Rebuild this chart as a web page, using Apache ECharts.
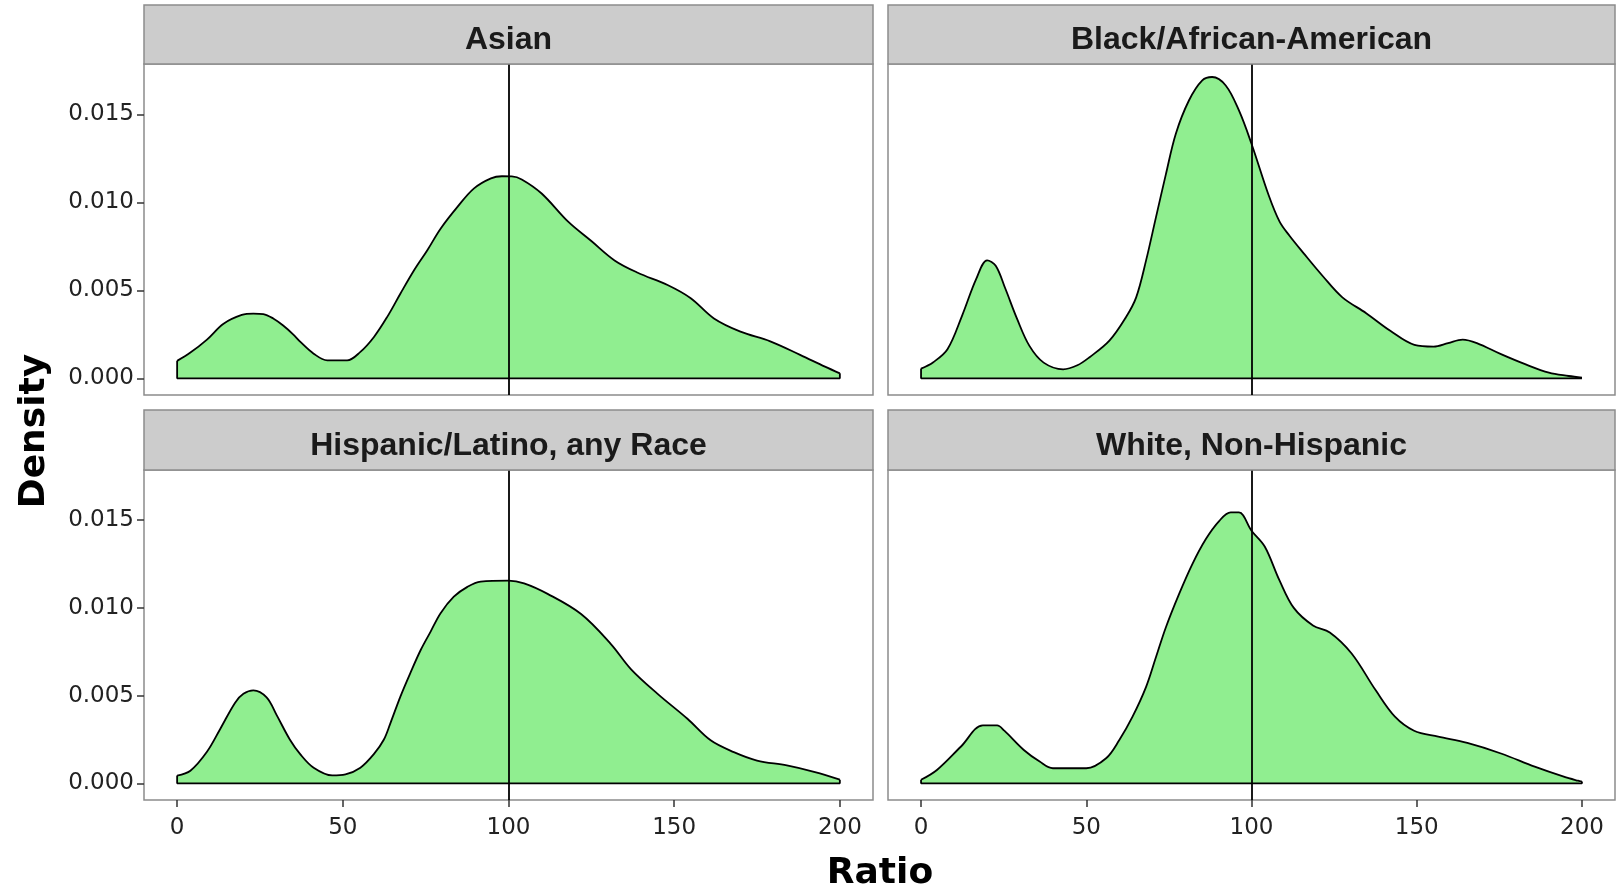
<!DOCTYPE html>
<html><head><meta charset="utf-8">
<script src="https://cdn.jsdelivr.net/npm/echarts@6/dist/echarts.min.js"></script>
<style>html,body{margin:0;padding:0;background:#fff}#c{width:1617px;height:887px}</style>
</head><body><div id="c"></div>
<script>
const panelTitles = ['Asian', 'Black/African-American', 'Hispanic/Latino, any Race', 'White, Non-Hispanic'];
const xTicks = [0, 50, 100, 150, 200];
const yTicks = [0, 0.005, 0.010, 0.015];
const yTickLabels = ['0.000', '0.005', '0.010', '0.015'];
const refLine = 100;
const xTitle = 'Ratio';
const yTitle = 'Density';

const asian = [[0,0.00099],[4,0.00146],[9,0.0022],[14,0.0031],[19.5,0.0036],[23,0.00368],[26,0.00365],[29,0.0034],[32,0.0030],[35,0.0025],[37.2,0.00207],[41.2,0.0014],[45.3,0.00102],[51.3,0.00102],[55.3,0.0015],[59.4,0.00235],[63.4,0.00349],[67.4,0.00482],[71.5,0.00614],[75.5,0.00728],[79.5,0.0085],[84.6,0.00974],[89.6,0.01079],[94.7,0.01136],[98,0.01148],[101,0.01147],[104,0.0113],[110,0.0105],[118,0.0089],[125,0.0078],[132,0.0067],[139,0.0060],[148,0.0053],[155,0.00455],[162,0.0034],[170,0.00265],[179,0.0021],[188,0.00133],[195.5,0.00066],[200,0.00028]];
const black = [[0,0.00055],[3.6,0.0009],[8,0.00165],[12.4,0.00355],[16.7,0.00565],[20,0.0067],[22.6,0.0064],[25.5,0.0051],[29.1,0.00336],[32.8,0.00184],[37.1,0.00089],[43,0.00051],[47.3,0.00074],[51,0.0012],[57,0.00214],[62,0.00347],[65.1,0.0046],[68.1,0.0067],[71.1,0.00916],[74.1,0.0116],[77.1,0.0139],[81.1,0.0158],[85.1,0.01693],[88.1,0.01712],[92.2,0.01664],[96.2,0.01522],[100,0.01333],[105.2,0.0104],[108.5,0.0089],[111.5,0.0081],[115.8,0.0071],[121.6,0.0058],[127.5,0.0046],[134.7,0.0037],[142,0.0027],[149.3,0.0019],[155.1,0.0018],[159.5,0.0020],[163.9,0.0022],[168.2,0.0020],[175.5,0.00137],[182.8,0.0008],[190,0.00032],[196,0.00013],[200,0.00003]];
const hispanic = [[0,0.00044],[4,0.00072],[9,0.0018],[13,0.0031],[17.5,0.0046],[20,0.0051],[23,0.0053],[27,0.0049],[30,0.0039],[34,0.0025],[37.2,0.00165],[41.2,0.00089],[46.8,0.00045],[50.8,0.00051],[55.3,0.00089],[59.3,0.00165],[62.4,0.0025],[64.4,0.00345],[67.4,0.00496],[70.4,0.0063],[73.5,0.0076],[76.5,0.00865],[79.5,0.0097],[83.5,0.01064],[87.6,0.0112],[91.6,0.0115],[100,0.01156],[104.7,0.0114],[111.8,0.0108],[121.9,0.00965],[130.9,0.00794],[137,0.0065],[145,0.0051],[154,0.00368],[161,0.00245],[168,0.00178],[175,0.0013],[184,0.00102],[192.5,0.00064],[200,0.00021]];
const white = [[0,0.0002],[4.8,0.00076],[12.1,0.0021],[18.7,0.0033],[23,0.0033],[25.2,0.003],[31.1,0.0019],[35.9,0.00124],[39.9,0.00086],[50,0.00086],[56,0.00143],[60,0.00247],[64,0.0038],[68.1,0.0055],[71.1,0.0072],[74.1,0.0089],[78.1,0.0108],[82.1,0.0125],[86.1,0.0139],[90.2,0.01495],[93.7,0.01544],[96.2,0.01544],[100,0.0144],[104,0.0135],[108.4,0.0116],[112.8,0.0100],[118.6,0.0090],[123.7,0.0086],[130.3,0.0074],[137.6,0.0053],[143.4,0.0038],[149.2,0.0030],[156.5,0.00266],[165.3,0.0023],[175.5,0.0017],[185.7,0.00095],[194.5,0.00038],[198.8,0.00015],[200,0.0001]];
const panelData = [asian, black, hispanic, white];

const FONT = "'Liberation Sans', Arial, sans-serif";
const TICKFONT = "'DejaVu Sans', sans-serif";
const TITLEFONT = "'DejaVu Sans', sans-serif";
const layout = [
  {left:144, top:64, width:729, height:331, strip:5},
  {left:888, top:64, width:727, height:331, strip:5},
  {left:144, top:470, width:729, height:330, strip:410},
  {left:888, top:470, width:727, height:330, strip:410}
];
const X_MIN = -10, X_MAX = 210, Y_MIN = -0.00095, Y_MAX = 0.01786;

const grids = [], xAxes = [], yAxes = [], series = [], graphics = [];
layout.forEach((g, i) => {
  const isBottom = i >= 2, isLeft = i % 2 === 0;
  grids.push({left:g.left, top:g.top, width:g.width, height:g.height, show:true,
    backgroundColor:'#fff', borderColor:'#8c8c8c', borderWidth:1.5, containLabel:false});
  xAxes.push({type:'value', gridIndex:i, min:X_MIN, max:X_MAX, position:'bottom',
    axisLine:{show:false, onZero:false}, splitLine:{show:false},
    axisTick:{show:isBottom, customValues:xTicks, length:7, lineStyle:{color:'#333', width:1.5}},
    axisLabel:{show:isBottom, customValues:xTicks, margin:17, fontSize:23, color:'#222', fontFamily:TICKFONT}});
  yAxes.push({type:'value', gridIndex:i, min:Y_MIN, max:Y_MAX, position:'left',
    axisLine:{show:false, onZero:false}, splitLine:{show:false},
    axisTick:{show:isLeft, customValues:yTicks, length:7, lineStyle:{color:'#333', width:1.5}},
    axisLabel:{show:isLeft, customValues:yTicks, margin:10, fontSize:23, color:'#222', fontFamily:TICKFONT,
      formatter:v => { const k = yTicks.findIndex(t => Math.abs(t - v) < 1e-9); return k >= 0 ? yTickLabels[k] : ''; }}});
  const d = panelData[i];
  series.push({type:'line', xAxisIndex:i, yAxisIndex:i, data:d, smooth:0.35, showSymbol:false, symbol:'none',
    lineStyle:{color:'#000', width:1.8}, areaStyle:{color:'#90EE90', opacity:1, origin:0}, silent:true, z:2,
    markLine:{silent:true, symbol:['none','none'], label:{show:false},
      lineStyle:{color:'#000', width:1.8, type:'solid'}, data:[{xAxis:refLine}], animation:false}});
  const first = d[0], last = d[d.length - 1];
  series.push({type:'line', xAxisIndex:i, yAxisIndex:i,
    data:[[first[0], first[1]], [first[0], 0], [last[0], 0], [last[0], last[1]]],
    showSymbol:false, symbol:'none', lineStyle:{color:'#000', width:1.8}, silent:true, z:3});
  graphics.push({type:'rect', shape:{x:g.left, y:g.strip, width:g.width, height:g.top - g.strip},
    style:{fill:'#CCCCCC', stroke:'#8c8c8c', lineWidth:1.5}, z:10});
  graphics.push({type:'text', x:g.left + g.width / 2, y:g.strip + (g.top - g.strip) / 2 + 6,
    style:{text:panelTitles[i], font:'bold 32px ' + FONT, fill:'#1a1a1a', align:'center', verticalAlign:'middle',
      textAlign:'center', textVerticalAlign:'middle'}, z:11});
});
graphics.push({type:'text', x:35, y:431, rotation:Math.PI / 2,
  style:{text:yTitle, font:'bold 36px ' + TITLEFONT, fill:'#000', align:'center', verticalAlign:'middle',
    textAlign:'center', textVerticalAlign:'middle'}, z:11});
graphics.push({type:'text', x:880, y:874,
  style:{text:xTitle, font:'bold 36px ' + TITLEFONT, fill:'#000', align:'center', verticalAlign:'middle',
    textAlign:'center', textVerticalAlign:'middle'}, z:11});

const chart = echarts.init(document.getElementById('c'), null, {renderer:'canvas'});
chart.setOption({animation:false, backgroundColor:'#fff', grid:grids, xAxis:xAxes, yAxis:yAxes, series:series, graphic:graphics});
</script></body></html>
